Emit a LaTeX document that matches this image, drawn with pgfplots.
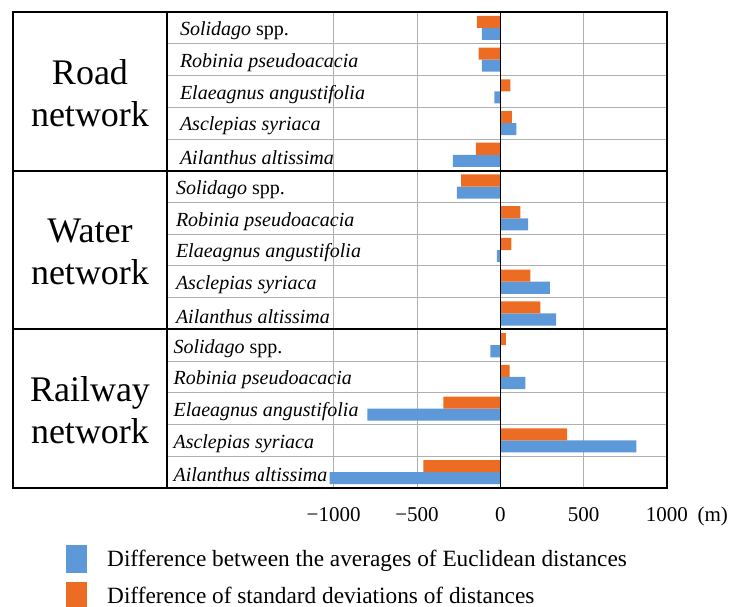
\documentclass[border=0pt]{standalone}
\usepackage{pgfplots}
\pgfplotsset{compat=1.18}
\usepackage{pgfplotstable}
\usepackage{fontspec}
\setmainfont{Liberation Serif}
\definecolor{barblue}{RGB}{93,152,216}
\definecolor{barorange}{RGB}{237,108,36}
\definecolor{gridgray}{RGB}{175,175,175}

\pgfplotstableread{
row avg sd
0.5 -110 -140
1.5 -110 -130
2.5 -36 60
3.5 96 70
4.5 -285 -146
5.5 -261 -235
6.5 167 120
7.5 -20 66
8.5 297 181
9.5 335 241
10.5 -60 34
11.5 151 56
12.5 -797 -341
13.5 817 401
14.5 -1024 -462
}\datatable

\newcommand{\spfont}{\fontsize{20}{24}\selectfont}
\newcommand{\gpfont}{\fontsize{36}{42}\selectfont}

\begin{document}
\begin{tikzpicture}
\begin{axis}[
  scale only axis, width=500pt, height=476pt,
  xmin=-2000, xmax=1000, ymin=0, ymax=15, y dir=reverse,
  clip=false,
  xbar, bar width=0.38,
  xtick={-1000,-500,0,500,1000},
  xticklabels={−1000,−500,0,500,1000},
  ytick={1,...,14}, yticklabels={},
  major tick length=0pt,
  xmajorgrids, ymajorgrids,
  grid style={gridgray, line width=0.8pt},
  axis line style={line width=2.2pt},
  xticklabel style={font=\fontsize{21}{25}\selectfont, anchor=base, yshift=-33pt},
  legend style={at={(axis description cs:0,0)}, anchor=north west,
    xshift=-101pt, yshift=-57pt, draw=none, fill=none, inner sep=0pt,
    nodes={inner sep=1pt}, row sep=9pt,
    font=\fontsize{23.3}{27}\selectfont,
    /tikz/every odd column/.append style={column sep=19pt}},
  legend cell align=left,
  legend image code/.code={\fill[#1] (0pt,-14pt) rectangle (21pt,14pt);},
]
\addplot[fill=barblue, draw=none, bar shift=0.19] table[x=avg, y=row] \datatable;
\addlegendentry{Difference between the averages of Euclidean distances}
\addplot[fill=barorange, draw=none, bar shift=-0.19] table[x=sd, y=row] \datatable;
\addlegendentry{Difference of standard deviations of distances}

\draw[black, line width=1.6pt] (axis cs:0,0) -- (axis cs:0,15);
\draw[black, line width=2.2pt] ([xshift=-154pt]axis cs:-2000,5) -- (axis cs:1000,5);
\draw[black, line width=2.2pt] ([xshift=-154pt]axis cs:-2000,10) -- (axis cs:1000,10);
\draw[black, line width=2.2pt] ([xshift=-154pt]axis cs:-2000,0) rectangle (axis cs:-2000,15);

\node[align=center, font=\gpfont] at ([xshift=-77pt, yshift=-2pt]axis cs:-2000,2.5) {Road\\network};
\node[align=center, font=\gpfont] at ([xshift=-77pt, yshift=-2pt]axis cs:-2000,7.5) {Water\\network};
\node[align=center, font=\gpfont] at ([xshift=-77pt, yshift=-2pt]axis cs:-2000,12.5) {Railway\\network};

\node[anchor=west, font=\spfont, xshift=9.5pt, yshift=-3pt] at (axis cs:-2000,0.5) {\textit{Solidago} spp.};
\node[anchor=west, font=\spfont, xshift=9.5pt, yshift=-3pt] at (axis cs:-2000,1.5) {\textit{Robinia pseudoacacia}};
\node[anchor=west, font=\spfont, xshift=9.5pt, yshift=-3pt] at (axis cs:-2000,2.5) {\textit{Elaeagnus angustifolia}};
\node[anchor=west, font=\spfont, xshift=9.5pt, yshift=-3pt] at (axis cs:-2000,3.5) {\textit{Asclepias syriaca}};
\node[anchor=west, font=\spfont, xshift=9.5pt, yshift=-3pt] at (axis cs:-2000,4.5) {\textit{Ailanthus altissima}};
\node[anchor=west, font=\spfont, xshift=5.5pt, yshift=-3pt] at (axis cs:-2000,5.5) {\textit{Solidago} spp.};
\node[anchor=west, font=\spfont, xshift=5.5pt, yshift=-3pt] at (axis cs:-2000,6.5) {\textit{Robinia pseudoacacia}};
\node[anchor=west, font=\spfont, xshift=5.5pt, yshift=-3pt] at (axis cs:-2000,7.5) {\textit{Elaeagnus angustifolia}};
\node[anchor=west, font=\spfont, xshift=5.5pt, yshift=-3pt] at (axis cs:-2000,8.5) {\textit{Asclepias syriaca}};
\node[anchor=west, font=\spfont, xshift=5.5pt, yshift=-3pt] at (axis cs:-2000,9.5) {\textit{Ailanthus altissima}};
\node[anchor=west, font=\spfont, xshift=3pt, yshift=-3pt] at (axis cs:-2000,10.5) {\textit{Solidago} spp.};
\node[anchor=west, font=\spfont, xshift=3pt, yshift=-3pt] at (axis cs:-2000,11.5) {\textit{Robinia pseudoacacia}};
\node[anchor=west, font=\spfont, xshift=3pt, yshift=-3pt] at (axis cs:-2000,12.5) {\textit{Elaeagnus angustifolia}};
\node[anchor=west, font=\spfont, xshift=3pt, yshift=-3pt] at (axis cs:-2000,13.5) {\textit{Asclepias syriaca}};
\node[anchor=west, font=\spfont, xshift=3pt, yshift=-3pt] at (axis cs:-2000,14.5) {\textit{Ailanthus altissima}};

\node[anchor=base west, font=\fontsize{21}{25}\selectfont, xshift=27pt, yshift=-33pt] at (axis cs:1000,15) {(m)};
\coordinate (A) at (axis cs:-2000,15);
\end{axis}
\pgfresetboundingbox
\path[use as bounding box] ([xshift=-167pt, yshift=-118pt]A) rectangle ++(732pt,606pt);
\end{tikzpicture}
\end{document}
